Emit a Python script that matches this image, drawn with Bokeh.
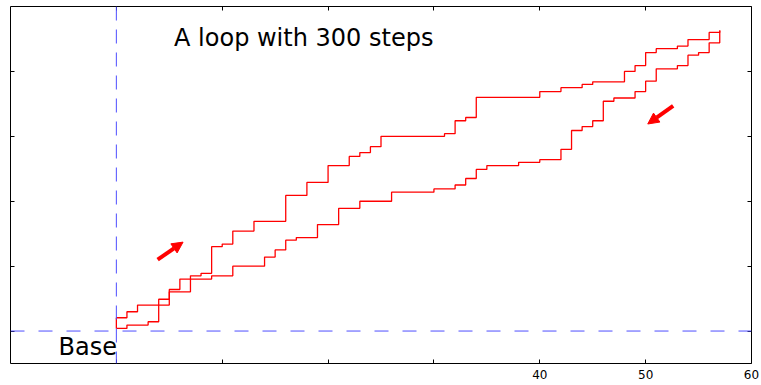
from bokeh.plotting import figure
from bokeh.models import LinearAxis, FixedTicker, Span, Label, Arrow, NormalHead
from bokeh.embed import file_html
from bokeh.resources import INLINE

# ---- data ----
# ascending branch (upper staircase): x where a step begins, level held after it
up_x = [0, 1, 2, 5, 6, 7, 8, 9, 10, 11, 13, 16, 18, 20, 22, 23, 24, 25, 31, 32, 33, 34,
        40, 42, 44, 45, 48, 49, 50, 51, 53, 54, 56, 57]
up_y = [0.205, 0.297, 0.40, 0.64, 0.80, 0.85, 0.89, 1.30, 1.34, 1.54, 1.69, 2.09, 2.29,
        2.55, 2.69, 2.75, 2.84, 3.00, 3.04, 3.24, 3.29, 3.60, 3.69, 3.75, 3.80, 3.84,
        4.00, 4.09, 4.29, 4.35, 4.39, 4.49, 4.60, 4.63]
# descending branch (lower staircase)
down_x = [0, 1, 3, 4, 5, 7, 9, 11, 14, 15, 16, 17, 19, 21, 23, 26, 30, 32, 33, 34, 35,
          38, 40, 42, 43, 44, 45, 46, 47, 49, 50, 51, 53, 54, 55, 56, 57]
down_y = [0.04, 0.092, 0.143, 0.49, 0.605, 0.80, 0.85, 1.00, 1.14, 1.25, 1.40, 1.44,
          1.64, 1.89, 2.00, 2.14, 2.19, 2.25, 2.35, 2.49, 2.55, 2.60, 2.64, 2.80, 3.09,
          3.15, 3.24, 3.54, 3.59, 3.69, 3.85, 4.04, 4.09, 4.25, 4.29, 4.44, 4.63]

x_ticks = [0, 10, 20, 30, 40, 50, 60]
x_tick_labels = ["", "", "", "", "40", "50", "60"]
y_ticks = [0, 1, 2, 3, 4]

title_text = "A loop with 300 steps"
base_text = "Base"
base_level = 0
# direction arrows: (x_start, y_start, x_end, y_end)
arrows = [(3.9, 1.10, 6.3, 1.37), (52.6, 3.47, 50.2, 3.19)]

x_range = (-10, 60)
y_range = (-0.5, 5)

# ---- figure ----
p = figure(width=761, height=385, x_range=x_range, y_range=y_range,
           output_backend="svg", toolbar_location=None,
           x_axis_location=None, y_axis_location=None,
           min_border_left=10, min_border_right=10,
           min_border_top=6, min_border_bottom=22)
p.outline_line_color = "black"
p.outline_line_width = 1
p.background_fill_color = "white"
p.border_fill_color = "white"
for g in p.grid:
    g.visible = False

# bottom axis with labels
bx = LinearAxis(ticker=FixedTicker(ticks=x_ticks))
bx.major_label_overrides = {t: l for t, l in zip(x_ticks, x_tick_labels)}
bx.major_tick_in = 4
bx.major_tick_out = 0
bx.minor_tick_line_color = None
bx.axis_line_color = None
bx.major_tick_line_color = "black"
bx.major_label_text_font = "DejaVu Sans"
bx.major_label_text_font_size = "12px"
bx.major_label_text_color = "black"
bx.major_label_standoff = 6
p.add_layout(bx, "below")

# top axis (ticks only)
tx = LinearAxis(ticker=FixedTicker(ticks=x_ticks))
tx.major_tick_in = 4
tx.major_tick_out = 0
tx.minor_tick_line_color = None
tx.axis_line_color = None
tx.major_label_text_font_size = "0px"
tx.major_label_standoff = 0
p.add_layout(tx, "above")

for side in ("left", "right"):
    ya = LinearAxis(ticker=FixedTicker(ticks=y_ticks))
    ya.major_tick_in = 4
    ya.major_tick_out = 0
    ya.minor_tick_line_color = None
    ya.axis_line_color = None
    ya.major_label_text_font_size = "0px"
    ya.major_label_standoff = 0
    p.add_layout(ya, side)

# dashed reference lines
p.add_layout(Span(location=base_level, dimension="width", line_color="#4d4dff",
                  line_width=1, line_dash="14 14"))
p.add_layout(Span(location=up_x[0], dimension="height", line_color="#4d4dff",
                  line_width=1, line_dash="14 9"))

# staircases
p.step(x=up_x, y=up_y, mode="after", line_color="red", line_width=1.3)
p.step(x=down_x, y=down_y, mode="after", line_color="red", line_width=1.3)
# closing vertical at the start of the loop
p.segment(x0=[up_x[0]], y0=[down_y[0]], x1=[up_x[0]], y1=[up_y[0]],
          line_color="red", line_width=1.3)

for (xs, ys, xe, ye) in arrows:
    p.add_layout(Arrow(x_start=xs, y_start=ys, x_end=xe, y_end=ye,
                       line_color="red", line_width=4,
                       end=NormalHead(size=11, fill_color="red", line_color="red",
                                      line_width=1)))

p.add_layout(Label(x=17.7, y=4.52, text=title_text, text_align="center",
                   text_baseline="alphabetic", text_font="DejaVu Sans",
                   text_font_size="24px", text_color="black"))
p.add_layout(Label(x=-2.7, y=-0.24, text=base_text, text_align="center",
                   text_baseline="alphabetic", text_font="DejaVu Sans",
                   text_font_size="24px", text_color="black"))

open("out.html", "w").write(file_html(p, INLINE))
